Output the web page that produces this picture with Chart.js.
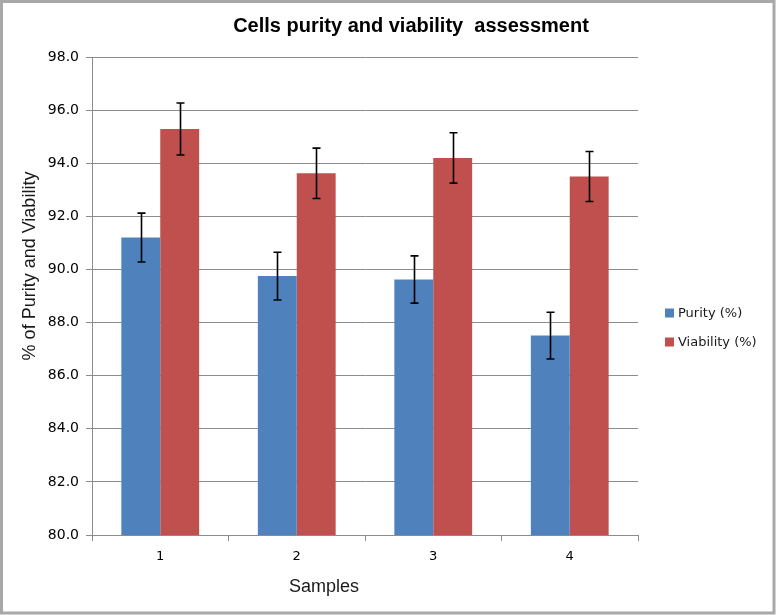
<!DOCTYPE html>
<html>
<head>
<meta charset="utf-8">
<script src="https://cdn.jsdelivr.net/npm/chart.js@4.4.1/dist/chart.umd.min.js"></script>
<style>
  html, body { margin: 0; padding: 0; background: #ffffff; }
  #wrap { width: 777px; height: 615px; position: relative; }
</style>
</head>
<body>
<div id="wrap"><canvas id="c" width="777" height="615"></canvas></div>
<script>
const categories = ['1', '2', '3', '4'];
const purity = [91.2, 89.75, 89.62, 87.51];
const purityErr = [0.92, 0.90, 0.89, 0.88];
const viability = [95.29, 93.62, 94.2, 93.5];
const viabilityErr = [0.98, 0.95, 0.95, 0.94];
const seriesNames = ['Purity (%)', 'Viability (%)'];
const chartTitle = 'Cells purity and viability  assessment';
const xTitle = 'Samples';
const yTitle = '% of Purity and Viability';

const BLUE = '#4f81bd';
const RED = '#c0504d';
const GRID = '#8c8c8c';

const errorBars = {
  id: 'errorBars',
  afterDatasetsDraw(chart) {
    const ctx = chart.ctx;
    const yScale = chart.scales.y;
    const errs = [purityErr, viabilityErr];
    ctx.save();
    ctx.strokeStyle = '#000000';
    ctx.lineWidth = 1.6;
    chart.data.datasets.forEach((ds, di) => {
      const meta = chart.getDatasetMeta(di);
      meta.data.forEach((bar, i) => {
        const v = ds.data[i];
        const e = errs[di][i];
        const x = Math.round(bar.x) + 0.5;
        const yTop = yScale.getPixelForValue(v + e);
        const yBot = yScale.getPixelForValue(v - e);
        ctx.beginPath();
        ctx.moveTo(x, yTop); ctx.lineTo(x, yBot);
        ctx.moveTo(x - 4, yTop); ctx.lineTo(x + 4, yTop);
        ctx.moveTo(x - 4, yBot); ctx.lineTo(x + 4, yBot);
        ctx.stroke();
      });
    });
    ctx.restore();
  }
};

const decorations = {
  id: 'decorations',
  beforeDraw(chart) {
    const ctx = chart.ctx;
    ctx.save();
    ctx.fillStyle = '#ffffff';
    ctx.fillRect(0, 0, chart.width, chart.height);
    ctx.restore();
  },
  afterDraw(chart) {
    const ctx = chart.ctx;
    ctx.save();
    // outer frame
    ctx.strokeStyle = '#a8a8a8';
    ctx.lineWidth = 3;
    ctx.strokeRect(1.5, 1.5, 772.5, 611.5);
    // title
    ctx.fillStyle = '#000000';
    ctx.font = 'bold 20px "Liberation Sans", Arial, sans-serif';
    ctx.textAlign = 'center';
    ctx.textBaseline = 'middle';
    ctx.fillText(chartTitle, 411, 26);
    // x title
    ctx.font = '18px "Liberation Sans", Arial, sans-serif';
    ctx.fillStyle = '#1a1a1a';
    ctx.fillText(xTitle, 324, 587);
    // y title
    ctx.save();
    ctx.translate(30, 266);
    ctx.rotate(-Math.PI / 2);
    ctx.fillText(yTitle, 0, 0);
    ctx.restore();
    // legend
    const colors = [BLUE, RED];
    const ys = [313, 342];
    ctx.font = '13px "DejaVu Sans", Verdana, sans-serif';
    ctx.textAlign = 'left';
    ctx.textBaseline = 'middle';
    chart.data.datasets.forEach((ds, i) => {
      ctx.fillStyle = colors[i];
      ctx.fillRect(665, ys[i] - 4.5, 9, 9);
      ctx.fillStyle = '#1a1a1a';
      ctx.fillText(ds.label, 678, ys[i] + 1);
    });
    ctx.restore();
  }
};

new Chart(document.getElementById('c'), {
  type: 'bar',
  data: {
    labels: categories,
    datasets: [
      { label: seriesNames[0], data: purity, backgroundColor: BLUE, borderWidth: 0 },
      { label: seriesNames[1], data: viability, backgroundColor: RED, borderWidth: 0 }
    ]
  },
  options: {
    responsive: false,
    animation: false,
    devicePixelRatio: 1,
    layout: { padding: { left: 0, top: 57, right: 139, bottom: 0 } },
    datasets: { bar: { categoryPercentage: 0.57, barPercentage: 1.0 } },
    plugins: {
      legend: { display: false },
      title: { display: false },
      tooltip: { enabled: false }
    },
    scales: {
      x: {
        grid: { display: true, drawOnChartArea: false, offset: true, color: GRID, tickLength: 6 },
        border: { display: true, color: GRID, width: 1 },
        ticks: { color: '#000000', font: { family: '"DejaVu Sans", Verdana, sans-serif', size: 13 }, padding: 8 },
        afterFit(scale) { scale.height = 80; }
      },
      y: {
        min: 80,
        max: 98,
        grid: { color: GRID, tickLength: 6, lineWidth: 1 },
        border: { display: true, color: GRID, width: 1 },
        ticks: {
          stepSize: 2,
          color: '#000000',
          padding: 7,
          font: { family: '"DejaVu Sans", Verdana, sans-serif', size: 14 },
          callback: (v) => Number(v).toFixed(1)
        },
        afterFit(scale) { scale.width = 92; }
      }
    }
  },
  plugins: [decorations, errorBars]
});
</script>
</body>
</html>
